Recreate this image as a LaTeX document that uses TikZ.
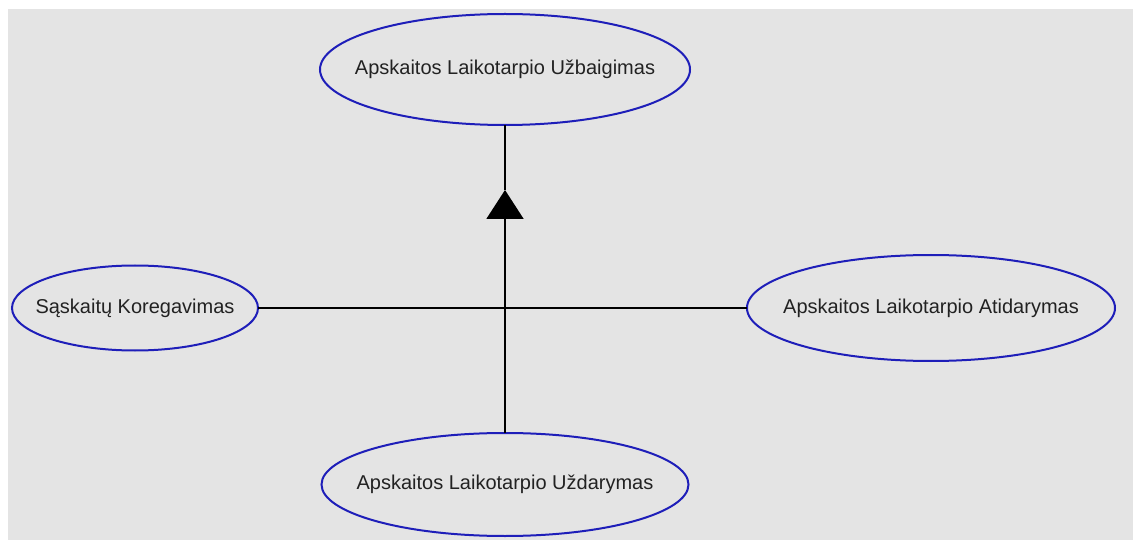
\documentclass[tikz,border=0pt]{standalone}
\usepackage{fontspec}
\setmainfont{Liberation Sans}
\usetikzlibrary{positioning,shapes.geometric,arrows.meta}

\definecolor{canvasgray}{RGB}{228,228,228}
\definecolor{ovalblue}{RGB}{30,30,185}
\definecolor{labelgray}{RGB}{34,34,34}

\tikzset{
	usecase/.style={ellipse, draw=ovalblue, line width=2pt, inner xsep=-80pt, inner ysep=0pt, outer sep=0pt,
		text=labelgray, font=\fontsize{20}{24}\selectfont},
	conn/.style={draw=black, line width=2pt},
}

\begin{document}
\begin{tikzpicture}[x=1pt,y=-1pt]
				\useasboundingbox (0,0) rectangle (1133,540);
				\fill[canvasgray] (8,9) rectangle (1133,540);

				\coordinate (j) at (505,308);
				\coordinate[above=118pt of j] (tip);

				\node[usecase, minimum width=370pt, minimum height=111pt, above=183pt of j] (uzb) {Apskaitos Laikotarpio Užbaigimas};
				\node[usecase, minimum width=246pt, minimum height=85pt, left=247pt of j] (koreg) {Sąskaitų Koregavimas};
				\node[usecase, minimum width=368pt, minimum height=106pt, right=242pt of j] (atid) {Apskaitos Laikotarpio Atidarymas};
				\node[usecase, minimum width=367pt, minimum height=103pt, below=125pt of j] (uzd) {Apskaitos Laikotarpio Uždarymas};

				% merged edges meet at j, one shared triangle head
				\draw[conn] (koreg.east) -- (j);
				\draw[conn] (atid.west) -- (j);
				\draw[conn] (uzd.north) -- ++(0,-106) -| (j);
				\draw[conn, -{Triangle[width=37pt,length=29pt]}] (j) -- (tip);
				\draw[conn] (tip) -- ++(0,-31) -| (uzb.south);
			\end{tikzpicture}
\end{document}
